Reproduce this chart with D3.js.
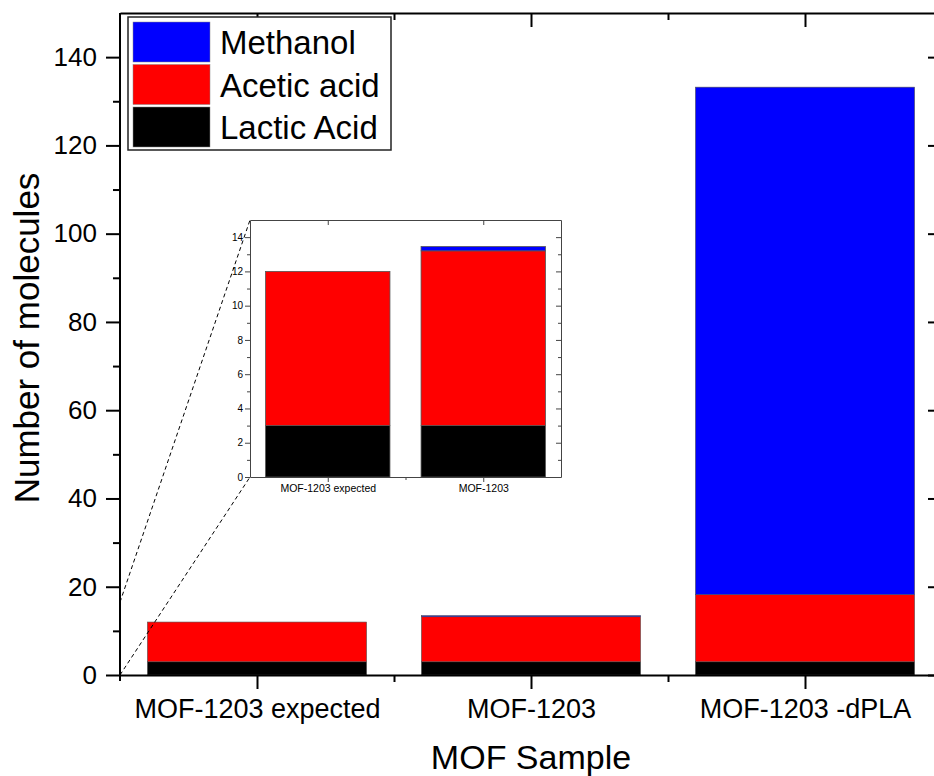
<!DOCTYPE html>
<html><head><meta charset="utf-8">
<script src="https://cdn.jsdelivr.net/npm/d3@7"></script>
<style>
html,body{margin:0;padding:0;background:#fff;}
text{font-family:"Liberation Sans",Arial,sans-serif;fill:#000;}
</style></head>
<body>
<svg id="chart" width="934" height="776"></svg>
<script>
// ---- data ----
const categories = ["MOF-1203 expected", "MOF-1203", "MOF-1203 -dPLA"];
const seriesNames = ["Lactic Acid", "Acetic acid", "Methanol"];
const lactic = [3, 3, 3];
const acetic = [9, 10.2, 15.2];
const methanol = [0, 0.25, 115];
const yTicksMain = [0, 20, 40, 60, 80, 100, 120, 140];
const yMinorMain = [10, 30, 50, 70, 90, 110, 130];
const yTicksInset = [0, 2, 4, 6, 8, 10, 12, 14];
const yMinorInset = [1, 3, 5, 7, 9, 11, 13];
const insetCount = 2;          // first two categories shown in the inset
const zoomTopValue = 16.5;     // main-axis value where upper zoom line starts
const colors = {"Lactic Acid": "#000000", "Acetic acid": "#ff0000", "Methanol": "#0000ff"};
const legendOrder = ["Methanol", "Acetic acid", "Lactic Acid"];

(function () {
const rows = categories.map((c, i) => ({cat: c, idx: i + 1, "Lactic Acid": lactic[i], "Acetic acid": acetic[i], "Methanol": methanol[i]}));
const stacked = d3.stack().keys(seriesNames)(rows);

const svg = d3.select("#chart");

// ---- main scales ----
const x = d3.scaleLinear().domain([0.5, 3.5]).range([120, 942]);
const y = d3.scaleLinear().domain([0, 150]).range([675, 13]);
const barW = 0.8;

// bars
const gBars = svg.append("g");
stacked.forEach(s => {
  gBars.selectAll(null).data(s).enter().append("rect")
    .attr("x", d => x(d.data.idx - barW / 2))
    .attr("width", d => x(d.data.idx + barW / 2) - x(d.data.idx - barW / 2))
    .attr("y", d => y(d[1]))
    .attr("height", d => Math.max(0, y(d[0]) - y(d[1])))
    .attr("fill", colors[s.key])
    .attr("stroke", d => (d[1] - d[0]) > 0 ? "#555" : "none")
    .attr("stroke-width", 0.6);
});

// ---- inset scales ----
const xi = d3.scaleLinear().domain([0.5, insetCount + 0.5]).range([250, 561]);
const yi = d3.scaleLinear().domain([0, 15]).range([477, 220]);

// zoom dashed lines
const gDash = svg.append("g").attr("stroke", "#000").attr("stroke-width", 1).attr("stroke-dasharray", "4,3").attr("fill", "none");
gDash.append("line").attr("x1", x(0.5)).attr("y1", y(0)).attr("x2", xi(0.5)).attr("y2", yi(0));
gDash.append("line").attr("x1", x(0.5)).attr("y1", y(zoomTopValue)).attr("x2", xi(0.5)).attr("y2", yi(15));

// ---- main axes ----
function styleAxis(g, w, col) {
  g.selectAll(".domain").attr("stroke", col).attr("stroke-width", w);
  g.selectAll(".tick line").attr("stroke", col).attr("stroke-width", w);
}
const axLeft = svg.append("g").attr("transform", `translate(${x(0.5)},0)`)
  .call(d3.axisLeft(y).tickValues(yTicksMain).tickSize(14).tickPadding(9).tickSizeOuter(0).tickFormat(d3.format("d")));
axLeft.selectAll("text").style("font-size", "26px");
styleAxis(axLeft, 2, "#000");
axLeft.select(".domain").attr("d", `M0,${y(150)}V${y(0) + 6}`);
svg.append("g").attr("transform", `translate(${x(0.5)},0)`)
  .call(d3.axisLeft(y).tickValues(yMinorMain).tickSize(7).tickFormat(""))
  .call(g => { g.select(".domain").remove(); styleAxis(g, 2, "#000"); });

const axBottom = svg.append("g").attr("transform", `translate(0,${y(0)})`)
  .call(d3.axisBottom(x).tickValues(rows.map(r => r.idx)).tickSize(14).tickPadding(10).tickSizeOuter(0).tickFormat((d, i) => categories[i]));
axBottom.selectAll("text").style("font-size", "27px");
styleAxis(axBottom, 2, "#000");
svg.append("g").attr("transform", `translate(0,${y(0)})`)
  .call(d3.axisBottom(x).tickValues([1.5, 2.5]).tickSize(7).tickFormat(""))
  .call(g => { g.select(".domain").remove(); styleAxis(g, 2, "#000"); });

// mirror top / right (ticks inward)
const axTop = svg.append("g").attr("transform", `translate(0,${y(150)})`)
  .call(d3.axisBottom(x).tickValues(rows.map(r => r.idx)).tickSize(14).tickSizeOuter(0).tickFormat(""));
styleAxis(axTop, 2, "#000");
svg.append("g").attr("transform", `translate(0,${y(150)})`)
  .call(d3.axisBottom(x).tickValues([1.5, 2.5]).tickSize(7).tickFormat(""))
  .call(g => { g.select(".domain").remove(); styleAxis(g, 2, "#000"); });
const axRight = svg.append("g").attr("transform", `translate(${x(3.5)},0)`)
  .call(d3.axisLeft(y).tickValues(yTicksMain).tickSize(14).tickSizeOuter(0).tickFormat(""));
styleAxis(axRight, 2, "#000");
svg.append("g").attr("transform", `translate(${x(3.5)},0)`)
  .call(d3.axisLeft(y).tickValues(yMinorMain).tickSize(7).tickFormat(""))
  .call(g => { g.select(".domain").remove(); styleAxis(g, 2, "#000"); });

// axis titles
svg.append("text").attr("x", (x(0.5) + x(3.5)) / 2).attr("y", 769).attr("text-anchor", "middle")
  .style("font-size", "34px").text("MOF Sample");
svg.append("text").attr("transform", `translate(39,338) rotate(-90)`).attr("text-anchor", "middle")
  .style("font-size", "35px").text("Number of molecules");

// ---- inset ----
const gIn = svg.append("g");
gIn.append("rect").attr("x", xi(0.5)).attr("y", yi(15)).attr("width", xi(insetCount + 0.5) - xi(0.5)).attr("height", yi(0) - yi(15)).attr("fill", "#fff");
stacked.forEach(s => {
  gIn.selectAll(null).data(s.slice(0, insetCount)).enter().append("rect")
    .attr("x", d => xi(d.data.idx - barW / 2))
    .attr("width", d => xi(d.data.idx + barW / 2) - xi(d.data.idx - barW / 2))
    .attr("y", d => yi(d[1]))
    .attr("height", d => Math.max(0, yi(d[0]) - yi(d[1])))
    .attr("fill", colors[s.key])
    .attr("stroke", d => (d[1] - d[0]) > 0 ? "#555" : "none")
    .attr("stroke-width", 0.8);
});
const inCol = "#444";
const il = gIn.append("g").attr("transform", `translate(${xi(0.5)},0)`)
  .call(d3.axisLeft(yi).tickValues(yTicksInset).tickSize(5).tickPadding(2).tickSizeOuter(0));
il.selectAll("text").style("font-size", "10px");
styleAxis(il, 1, inCol);
gIn.append("g").attr("transform", `translate(${xi(0.5)},0)`)
  .call(d3.axisLeft(yi).tickValues(yMinorInset).tickSize(3).tickFormat(""))
  .call(g => { g.select(".domain").remove(); styleAxis(g, 1, inCol); });
const ib = gIn.append("g").attr("transform", `translate(0,${yi(0)})`)
  .call(d3.axisBottom(xi).tickValues(rows.slice(0, insetCount).map(r => r.idx)).tickSize(5).tickPadding(3).tickSizeOuter(0).tickFormat((d, i) => categories[i]));
ib.selectAll("text").style("font-size", "10.5px");
styleAxis(ib, 1, inCol);
gIn.append("g").attr("transform", `translate(0,${yi(0)})`)
  .call(d3.axisBottom(xi).tickValues([1.5]).tickSize(3).tickFormat(""))
  .call(g => { g.select(".domain").remove(); styleAxis(g, 1, inCol); });
const it = gIn.append("g").attr("transform", `translate(0,${yi(15)})`)
  .call(d3.axisBottom(xi).tickValues(rows.slice(0, insetCount).map(r => r.idx)).tickSize(5).tickSizeOuter(0).tickFormat(""));
styleAxis(it, 1, inCol);
const ir = gIn.append("g").attr("transform", `translate(${xi(insetCount + 0.5)},0)`)
  .call(d3.axisLeft(yi).tickValues(yTicksInset).tickSize(5).tickSizeOuter(0).tickFormat(""));
styleAxis(ir, 1, inCol);
gIn.append("g").attr("transform", `translate(${xi(insetCount + 0.5)},0)`)
  .call(d3.axisLeft(yi).tickValues(yMinorInset).tickSize(3).tickFormat(""))
  .call(g => { g.select(".domain").remove(); styleAxis(g, 1, inCol); });

// ---- legend ----
const lg = svg.append("g").attr("transform", "translate(128,17)");
lg.append("rect").attr("width", 263).attr("height", 133).attr("fill", "#fff").attr("stroke", "#222").attr("stroke-width", 1.5);
legendOrder.forEach((k, i) => {
  lg.append("rect").attr("x", 5).attr("y", 5 + i * 42.5).attr("width", 77).attr("height", 40).attr("fill", colors[k])
    .attr("stroke", "#888").attr("stroke-width", 0.5);
  lg.append("text").attr("x", 92).attr("y", 5 + i * 42.5 + 32).style("font-size", "33px").text(k);
});
})();
</script>
</body></html>
